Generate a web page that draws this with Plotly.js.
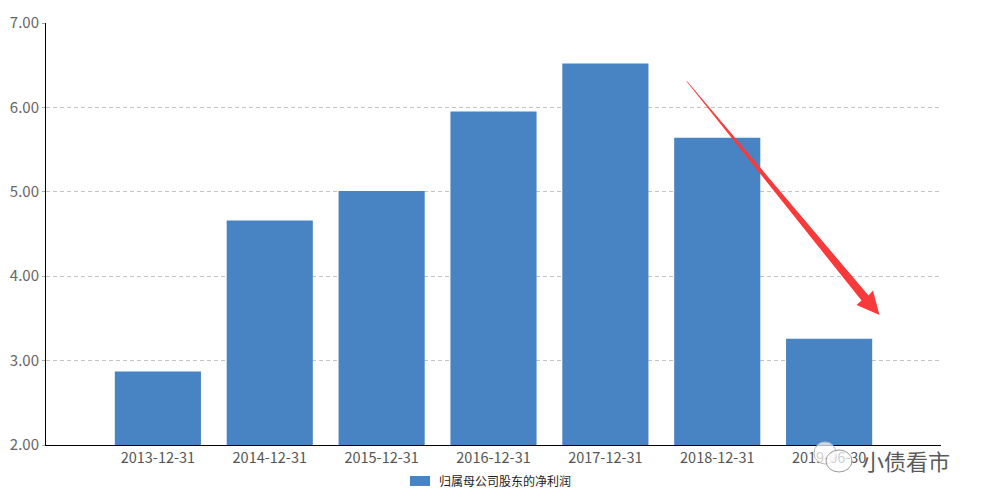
<!DOCTYPE html>
<html><head><meta charset="utf-8">
<script src="https://cdn.plot.ly/plotly-3.0.1.min.js"></script>
<style>html,body{margin:0;padding:0;background:#fff}#c{width:984px;height:502px}</style>
</head><body><div id="c"></div>
<script>
const categories = ["2013-12-31","2014-12-31","2015-12-31","2016-12-31","2017-12-31","2018-12-31","2019-06-30"];
const netProfit = [2.87, 4.66, 5.01, 5.95, 6.52, 5.64, 3.26];
const seriesName = "归属母公司股东的净利润";
const yTicks = [2, 3, 4, 5, 6, 7];
const yTickText = ["2.00","3.00","4.00","5.00","6.00","7.00"];

const L = 46, R = 43, T = 22.7, B = 57, W = 984, H = 502;
const pw = W - L - R, ph = H - T - B;
function pxX(x){ return (x - L)/pw; }
function pxY(y){ return (H - B - y)/ph; }
function px(x, y){ return pxX(x).toFixed(4) + "," + pxY(y).toFixed(4); }
const arrowPath = "M" + px(686,80.5) + " L" + px(687.6,81.5) + " L" + px(868.5,295.5) + " L" + px(873,290.5) +
  " L" + px(879.5,315) + " L" + px(856.5,305) + " L" + px(861.5,300.5) + " Z";

const trace = {
  type: "bar", x: categories, y: netProfit, name: seriesName,
  marker: {color: "#4884c4"}, width: 0.77, showlegend: false
};
const layout = {
  width: W, height: H, margin: {l: L, r: R, t: T, b: B},
  paper_bgcolor: "#fff", plot_bgcolor: "#fff",
  font: {family: "Noto Sans CJK SC, sans-serif", color: "#555", size: 13},
  xaxis: {type: "category", range: [-1, 7], showline: true, linecolor: "#000", linewidth: 1,
          showgrid: false, ticks: "", tickfont: {size: 14.5, color: "#555"}, fixedrange: true},
  yaxis: {range: [2, 7], tickvals: yTicks, ticktext: yTickText, showline: true, linecolor: "#000",
          linewidth: 1, showgrid: true, gridcolor: "#c4c4c4", griddash: "4px,3px", gridwidth: 1,
          ticks: "outside", ticklen: 3, tickcolor: "#aaa", tickfont: {size: 15, color: "#666"},
          zeroline: false},
  showlegend: false,
  shapes: [
    {type: "path", xref: "paper", yref: "paper", path: arrowPath, fillcolor: "#fa3a3a", line: {width: 0}},
    {type: "rect", xref: "paper", yref: "paper", x0: pxX(410), x1: pxX(430), y0: pxY(486), y1: pxY(476),
     fillcolor: "#4884c4", line: {width: 0}},
    {type: "circle", xref: "paper", yref: "paper", x0: pxX(814), x1: pxX(836), y0: pxY(464), y1: pxY(442),
     fillcolor: "rgba(255,255,255,0.7)", line: {color: "#bbb", width: 1}},
    {type: "circle", xref: "paper", yref: "paper", x0: pxX(826), x1: pxX(852), y0: pxY(472), y1: pxY(450),
     fillcolor: "rgba(255,255,255,0.7)", line: {color: "#999", width: 1}}
  ],
  annotations: [
    {xref: "paper", yref: "paper", x: pxX(437), y: pxY(481), xanchor: "left", yanchor: "middle",
     showarrow: false, text: seriesName, font: {size: 12, color: "#222"}},
    {xref: "paper", yref: "paper", x: pxX(952), y: pxY(460), xanchor: "right", yanchor: "middle",
     showarrow: false, text: "小债看市", font: {size: 22, color: "#5a5a5a", family: "Noto Sans CJK SC"}}
  ]
};
Plotly.newPlot("c", [trace], layout, {displayModeBar: false, staticPlot: true});
</script></body></html>
